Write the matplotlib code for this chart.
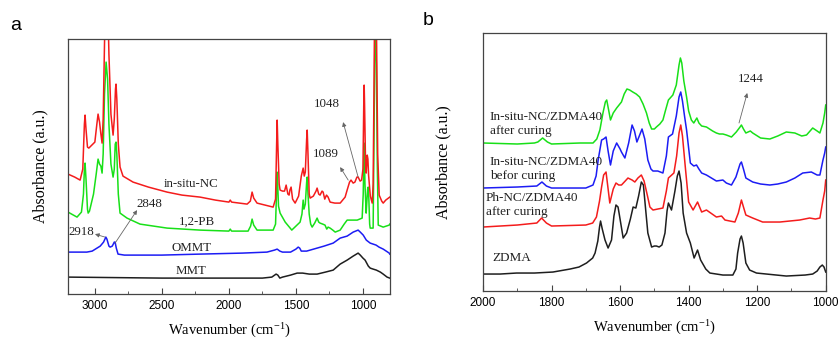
import matplotlib
matplotlib.use("Agg")
import matplotlib.pyplot as plt
from matplotlib.ticker import MultipleLocator

SERIF = "Liberation Serif"
SANS = "Liberation Sans"
plt.rcParams["mathtext.fontset"] = "custom"
plt.rcParams["mathtext.rm"] = SERIF
plt.rcParams["mathtext.default"] = "regular"

# ---- panel a: clay / polybutadiene spectra (wavenumber, absorbance a.u.) ----
insitu_wn = [3200, 3150, 3110, 3090, 3078, 3073, 3066, 3055, 3045, 3000, 2985, 2976, 2965,
             2955, 2946, 2938, 2928, 2918, 2905, 2895, 2880, 2864, 2855, 2846, 2842, 2836,
             2825, 2812, 2790, 2715, 2600, 2461, 2350, 2215, 2100, 2000, 1990, 1980, 1864,
             1840, 1827, 1815, 1790, 1700, 1670, 1652, 1644, 1640, 1635, 1625, 1618, 1600,
             1585, 1573, 1560, 1551, 1545, 1536, 1525, 1506, 1480, 1460, 1446, 1438, 1430,
             1420, 1416, 1410, 1401, 1394, 1370, 1350, 1342, 1330, 1320, 1305, 1297, 1285,
             1272, 1260, 1245, 1210, 1193, 1170, 1133, 1118, 1100, 1089, 1073, 1060, 1045,
             1036, 1021, 1010, 1000, 993, 991, 988, 980, 976, 968, 963, 958, 945, 931, 924,
             918, 912, 905, 898, 890, 879, 860, 849, 830, 800]
insitu_abs = [120, 117, 114, 125, 170, 179, 165, 147, 146, 152, 170, 180, 172,
              160, 151, 175, 250, 320, 300, 240, 180, 159, 175, 205, 210, 195,
              150, 127, 118, 112, 107, 102, 99, 97, 94, 92, 94, 92, 90,
              93, 102, 96, 91, 88, 87, 95, 150, 174, 150, 110, 104, 103,
              103, 109, 100, 99, 104, 107, 95, 91, 98, 118, 126, 118, 122,
              155, 164, 140, 100, 96, 98, 103, 106, 100, 99, 103, 102, 95,
              99, 97, 92, 91, 91, 91, 97, 104, 112, 114, 111, 112, 117,
              117, 113, 114, 125, 200, 209, 190, 125, 121, 139, 135, 119, 98, 91, 110,
              200, 300, 320, 250, 140, 99, 93, 91, 94, 97]

pb_wn = [3200, 3160, 3133, 3100, 3085, 3078, 3073, 3066, 3055, 3050, 3040, 3010, 2990,
         2976, 2965, 2955, 2946, 2938, 2928, 2916, 2905, 2895, 2880, 2864, 2855, 2848,
         2842, 2836, 2825, 2812, 2760, 2663, 2461, 2215, 2000, 1990, 1980, 1857, 1838,
         1827, 1815, 1790, 1670, 1652, 1645, 1640, 1636, 1630, 1618, 1580, 1543, 1531,
         1500, 1469, 1455, 1446, 1440, 1430, 1420, 1416, 1410, 1401, 1390, 1379, 1360,
         1342, 1330, 1320, 1300, 1283, 1270, 1260, 1245, 1225, 1207, 1170, 1140, 1118,
         1043, 1006, 998, 991, 985, 976, 972, 965, 961, 956, 950, 946, 924, 918, 912,
         906, 900, 893, 886, 849, 804, 800]
pb_abs = [82, 79, 77, 82, 100, 125, 131, 115, 85, 81, 83, 100, 120,
          135, 130, 128, 121, 140, 200, 232, 215, 170, 130, 117, 125, 150,
          152, 140, 100, 81, 76, 70, 66, 64, 63, 65, 63, 63, 68,
          75, 69, 64, 64, 70, 100, 122, 110, 88, 81, 72, 66, 64,
          68, 72, 80, 94, 85, 90, 112, 117, 100, 80, 70, 67, 71,
          76, 72, 71, 70, 69, 65, 67, 66, 64, 62, 64, 70, 74,
          74, 76, 100, 151, 110, 81, 90, 105, 107, 95, 70, 66, 66, 150, 240,
          260, 230, 130, 69, 67, 69, 70]

ommt_wn = [3200, 3060, 3020, 2984, 2960, 2935, 2918, 2910, 2895, 2886, 2870, 2855, 2849,
           2840, 2827, 2780, 2500, 2215, 1900, 1716, 1660, 1640, 1620, 1600, 1540, 1500,
           1483, 1472, 1460, 1420, 1342, 1290, 1222, 1170, 1118, 1073, 1036, 1020, 998,
           975, 946, 924, 902, 880, 849, 804, 800]
ommt_abs = [42, 42, 43, 46, 48, 52, 57, 55, 48, 47, 48, 52, 52,
            46, 40, 39, 39, 40, 41, 42, 44, 45, 43, 42, 42, 45,
            47, 46, 43, 43, 46, 48, 51, 56, 58, 62, 64, 62, 59,
            54, 51, 50, 49, 47, 45, 41, 40]

mmt_wn = [3200, 2500, 2000, 1750, 1680, 1648, 1635, 1620, 1600, 1540, 1491, 1450, 1400,
          1342, 1280, 1222, 1170, 1118, 1073, 1036, 1020, 1000, 984, 960, 946, 924, 900,
          870, 849, 820, 800]
mmt_abs = [17, 16, 16, 16, 17, 20, 19, 16, 17, 19, 21, 21, 20,
           20, 22, 24, 30, 34, 38, 41, 39, 36, 34, 28, 26, 25, 24,
           22, 20, 17, 16]

# ---- panel b: ZDMA composites ----
cured_wn = [2000, 1900, 1850, 1840, 1826, 1812, 1800, 1717, 1679, 1668, 1659, 1650, 1643,
            1639, 1634, 1628, 1620, 1610, 1596, 1588, 1580, 1572, 1563, 1553, 1543, 1533,
            1523, 1515, 1508, 1500, 1494, 1484, 1475, 1468, 1459, 1446, 1436, 1428, 1424,
            1420, 1414, 1406, 1400, 1392, 1385, 1376, 1370, 1362, 1348, 1330, 1319, 1310,
            1300, 1290, 1275, 1261, 1250, 1246, 1240, 1233, 1220, 1213, 1190, 1163, 1140,
            1115, 1090, 1070, 1056, 1038, 1025, 1017, 1008, 1003, 1000]
cured_abs = [148, 147, 148, 149, 153, 149, 147, 148, 148, 152, 161, 178, 189,
             191, 182, 171, 178, 183, 189, 197, 202, 201, 199, 197, 194, 187,
             178, 168, 162, 162, 164, 167, 171, 180, 191, 196, 206, 226, 233,
             228, 210, 194, 180, 171, 168, 173, 168, 165, 164, 160, 158, 157,
             157, 156, 154, 159, 164, 166, 162, 158, 160, 158, 153, 152, 155,
             159, 158, 155, 156, 163, 160, 158, 168, 178, 186]

uncured_wn = [2000, 1900, 1843, 1828, 1815, 1800, 1700, 1679, 1670, 1664, 1654, 1648, 1641,
              1635, 1628, 1620, 1610, 1600, 1596, 1586, 1575, 1565, 1558, 1551, 1544, 1536,
              1528, 1519, 1510, 1504, 1490, 1475, 1465, 1459, 1447, 1436, 1428, 1423, 1418,
              1412, 1406, 1395, 1385, 1377, 1370, 1362, 1348, 1319, 1300, 1290, 1275, 1262,
              1250, 1246, 1240, 1233, 1213, 1190, 1163, 1140, 1115, 1090, 1067, 1042, 1025,
              1017, 1008, 1003, 1000]
uncured_abs = [103, 104, 105, 109, 105, 103, 103, 106, 115, 131, 151, 152, 154,
               140, 126, 140, 148, 142, 139, 133, 148, 166, 160, 149, 155, 162,
               152, 131, 122, 120, 120, 118, 135, 154, 157, 175, 194, 199, 190,
               175, 161, 128, 125, 126, 122, 118, 116, 110, 111, 108, 106, 114,
               127, 129, 122, 113, 109, 107, 106, 107, 109, 113, 118, 119, 116,
               116, 131, 138, 144]

phnc_wn = [2000, 1900, 1843, 1829, 1815, 1800, 1700, 1680, 1669, 1660, 1654, 1648, 1641,
           1636, 1630, 1620, 1612, 1604, 1596, 1585, 1577, 1565, 1557, 1548, 1538, 1530,
           1520, 1513, 1504, 1490, 1475, 1465, 1459, 1443, 1435, 1428, 1423, 1418, 1410,
           1400, 1387, 1374, 1368, 1362, 1348, 1319, 1304, 1294, 1265, 1255, 1246, 1240,
           1233, 1213, 1184, 1134, 1076, 1047, 1030, 1017, 1008, 1003, 1000]
phnc_abs = [64, 66, 68, 73, 68, 65, 66, 68, 74, 90, 104, 116, 119,
            105, 88, 102, 108, 106, 106, 110, 113, 111, 109, 113, 116, 110,
            95, 84, 81, 82, 83, 100, 113, 118, 135, 158, 166, 155, 125,
            89, 81, 89, 84, 79, 81, 74, 75, 71, 69, 78, 91, 84,
            76, 73, 69, 69, 71, 73, 72, 73, 91, 100, 111]

zdma_wn = [2000, 1950, 1902, 1850, 1796, 1746, 1720, 1698, 1680, 1673, 1665, 1660, 1657,
           1652, 1644, 1635, 1625, 1618, 1612, 1606, 1603, 1591, 1581, 1570, 1562, 1554,
           1546, 1538, 1532, 1525, 1519, 1508, 1500, 1494, 1486, 1478, 1469, 1463, 1459,
           1450, 1440, 1433, 1428, 1422, 1416, 1406, 1395, 1384, 1374, 1365, 1350, 1338,
           1300, 1271, 1262, 1257, 1250, 1246, 1241, 1233, 1222, 1202, 1115, 1060, 1038,
           1025, 1017, 1010, 1005, 1000]
zdma_abs = [17, 17, 18, 18, 19, 22, 24, 28, 33, 38, 50, 64, 70,
            62, 51, 43, 51, 75, 86, 84, 78, 53, 58, 72, 84, 83,
            95, 109, 106, 80, 58, 44, 45, 45, 44, 46, 58, 80, 88,
            81, 100, 115, 120, 108, 78, 58, 48, 33, 41, 31, 22, 18,
            16, 16, 22, 38, 52, 55, 48, 28, 21, 18, 15, 16, 17,
            20, 24, 26, 24, 19]

RED, GREEN, BLUE, BLACK = "#f41c1c", "#18e018", "#1c1cf4", "#1e1e1e"

fig = plt.figure(figsize=(8.4, 3.4), dpi=100)
ax_a = fig.add_axes([0.081, 0.135, 0.383, 0.750])
ax_b = fig.add_axes([0.575, 0.144, 0.408, 0.759])


def style_axes(ax, major, minor, ypad):
    for sp in ax.spines.values():
        sp.set_color("#444444")
        sp.set_linewidth(0.9)
    ax.xaxis.set_major_locator(MultipleLocator(major))
    ax.xaxis.set_minor_locator(MultipleLocator(minor))
    ax.tick_params(axis="x", which="major", direction="in", length=4, width=0.8,
                   color="#444444", labelsize=8.5, pad=4)
    ax.tick_params(axis="x", which="minor", direction="in", length=2, width=0.6,
                   color="#444444")
    ax.set_yticks([])
    for lbl in ax.get_xticklabels():
        lbl.set_fontfamily(SANS)
    ax.set_xlabel("Wavenumber (cm$^{-1}$)", fontfamily=SERIF, fontsize=10.5, labelpad=7)
    ax.set_ylabel("Absorbance (a.u.)", fontfamily=SERIF, fontsize=11.5, labelpad=ypad)


def note(ax, text, pos, xy, xytext):
    ax.annotate("", xy=xy, xytext=xytext,
                arrowprops=dict(arrowstyle="-|>", color="#666666", lw=0.6,
                                mutation_scale=6, shrinkA=0, shrinkB=0))
    ax.text(pos[0], pos[1], text, fontfamily=SERIF, fontsize=9.3, ha="center",
            va="center", color="#222222")


lw = 1.1
ax_a.plot(mmt_wn, mmt_abs, color=BLACK, lw=lw)
ax_a.plot(ommt_wn, ommt_abs, color=BLUE, lw=lw)
ax_a.plot(pb_wn, pb_abs, color=GREEN, lw=lw)
ax_a.plot(insitu_wn, insitu_abs, color=RED, lw=lw)
ax_a.set_xlim(3200, 800)
ax_a.set_ylim(0, 255)
style_axes(ax_a, 500, 250, 14)

for label, x, y in [("in-situ-NC", 2282, 110), ("1,2-PB", 2237, 72),
                    ("OMMT", 2282, 46), ("MMT", 2282, 23)]:
    ax_a.text(x, y, label, fontfamily=SERIF, fontsize=9.3, ha="center", va="center",
              color="#222222")

note(ax_a, "2918", (3103, 62), (2999, 60), (2924, 57))
note(ax_a, "2848", (2596, 90), (2685, 84), (2849, 51))
note(ax_a, "1048", (1267, 190), (1148, 172), (1036, 117))
note(ax_a, "1089", (1275, 140), (1170, 127), (1110, 114))

ax_b.plot(zdma_wn, zdma_abs, color=BLACK, lw=lw)
ax_b.plot(phnc_wn, phnc_abs, color=RED, lw=lw)
ax_b.plot(uncured_wn, uncured_abs, color=BLUE, lw=lw)
ax_b.plot(cured_wn, cured_abs, color=GREEN, lw=lw)
ax_b.set_xlim(2000, 1000)
ax_b.set_ylim(0, 258)
style_axes(ax_b, 200, 100, 23)

for label, x, y in [("In-situ-NC/ZDMA40\nafter curing", 1980, 167),
                    ("In-situ-NC/ZDMA40\nbefor curing", 1980, 122),
                    ("Ph-NC/ZDMA40\nafter curing", 1991, 86),
                    ("ZDMA", 1974, 33)]:
    ax_b.text(x, y, label, fontfamily=SERIF, fontsize=9.5, ha="left", va="center",
              linespacing=1.15, color="#222222")

note(ax_b, "1244", (1219, 212), (1229, 198), (1253, 168))

fig.text(0.012, 0.925, "a", fontfamily=SANS, fontsize=14, va="center")
fig.text(0.503, 0.94, "b", fontfamily=SANS, fontsize=14, va="center")

fig.savefig("out.png", dpi=100)
